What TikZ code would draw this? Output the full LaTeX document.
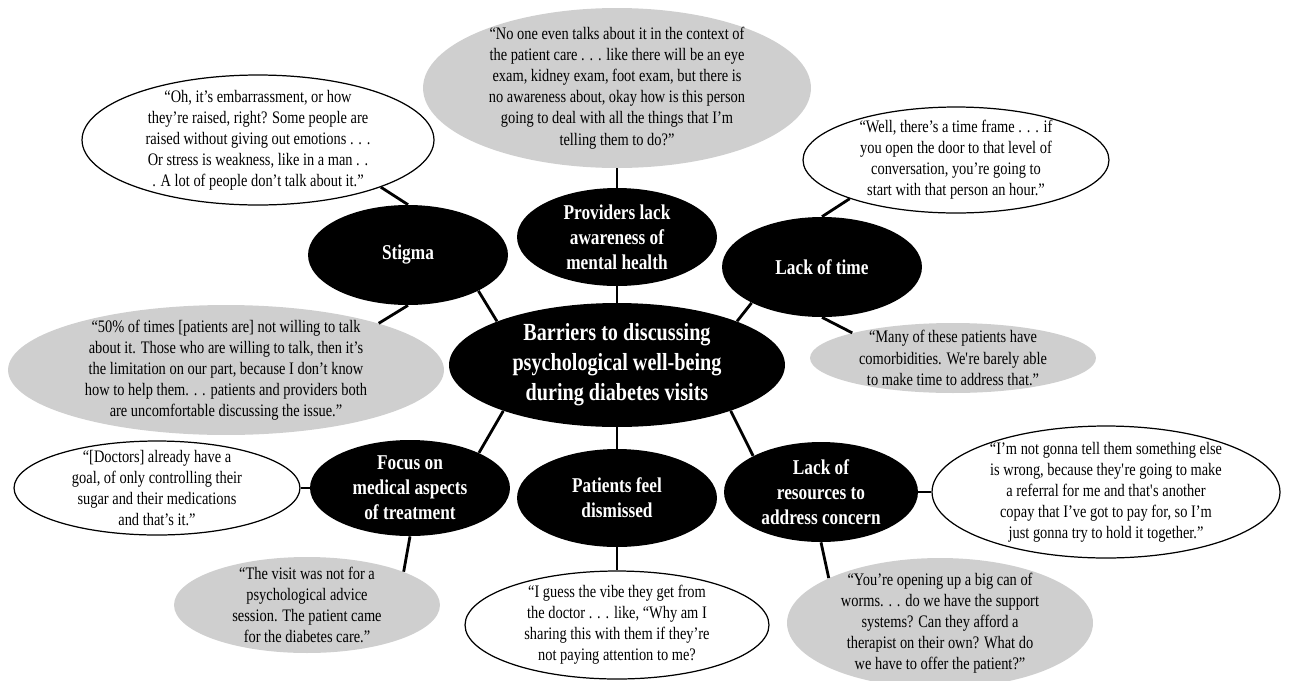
\documentclass[tikz,border=0pt]{standalone}
\usepackage{fontspec}
\setmainfont{Liberation Serif}[FakeStretch=0.82]
\usetikzlibrary{shapes.geometric}
\definecolor{quotegray}{RGB}{207,207,207}

\begin{document}
\begin{tikzpicture}[x=0.02cm,y=-0.02cm,
  theme/.style={ellipse,fill=black,text=white,align=center,inner sep=-3cm,
    font=\fontsize{12}{14.2}\selectfont\bfseries},
  quote/.style={ellipse,align=center,inner sep=-3cm,font=\fontsize{10}{12}\selectfont},
  plain/.style={quote,draw=black,line width=0.7pt,fill=white},
  shaded/.style={quote,fill=quotegray},
  link/.style={black,line width=1.6pt}]
\useasboundingbox (0,0) rectangle (1308,680);
% themes
\node[theme,minimum width=6.72cm,minimum height=2.48cm,font=\fontsize{14}{17}\selectfont\bfseries]
  (core) at (617,365) {Barriers to discussing\\psychological well-being\\during diabetes visits};
\node[theme,minimum width=4cm,minimum height=2cm] (stigma) at (408,255) {Stigma};
\node[theme,minimum width=4cm,minimum height=1.96cm] (aware) at (617,237) {Providers lack\\awareness of\\mental health};
\node[theme,minimum width=4cm,minimum height=2cm] (time) at (822,267) {Lack of time};
\node[theme,minimum width=4cm,minimum height=1.92cm] (focus) at (410,488) {Focus on\\medical aspects\\of treatment};
\node[theme,minimum width=4cm,minimum height=1.96cm] (dismiss) at (617,498) {Patients feel\\dismissed};
\node[theme,minimum width=3.88cm,minimum height=2cm] (resource) at (821,492) {Lack of\\resources to\\address concern};
% quotes
\node[plain,minimum width=7.04cm,minimum height=2.6cm] (q1) at (258,140)
  {“Oh, it’s embarrassment, or how\\they’re raised, right? Some people are\\raised without giving out emotions . . .\\Or stress is weakness, like in a man . .\\. A lot of people don’t talk about it.”};
\node[shaded,minimum width=7.76cm,minimum height=3.2cm] (q2) at (617,88)
  {“No one even talks about it in the context of\\the patient care . . . like there will be an eye\\exam, kidney exam, foot exam, but there is\\no awareness about, okay how is this person\\going to deal with all the things that I’m\\telling them to do?”};
\node[plain,minimum width=6.12cm,minimum height=2.12cm] (q3) at (956,160)
  {“Well, there’s a time frame . . . if\\you open the door to that level of\\conversation, you’re going to\\start with that person an hour.”};
\node[shaded,minimum width=8.72cm,minimum height=2.6cm] (q4) at (226,370)
  {“50\% of times [patients are] not willing to talk\\about it. Those who are willing to talk, then it’s\\the limitation on our part, because I don’t know\\how to help them. . . patients and providers both\\are uncomfortable discussing the issue.”};
\node[shaded,minimum width=5.72cm,minimum height=1.4cm] (q5) at (953,358)
  {“Many of these patients have\\comorbidities. We\textquotesingle re barely able\\to make time to address that.”};
\node[plain,minimum width=5.72cm,minimum height=1.88cm] (q6) at (157,488)
  {“[Doctors] already have a\\goal, of only controlling their\\sugar and their medications\\and that’s it.”};
\node[shaded,minimum width=5.32cm,minimum height=1.92cm] (q7) at (307,605)
  {“The visit was not for a\\psychological advice\\session. The patient came\\for the diabetes care.”};
\node[plain,minimum width=6.08cm,minimum height=2.16cm] (q8) at (617,625)
  {“I guess the vibe they get from\\the doctor . . . like, “Why am I\\sharing this with them if they’re\\not paying attention to me?};
\node[plain,minimum width=6.96cm,minimum height=2.64cm] (q9) at (1106,492)
  {“I’m not gonna tell them something else\\is wrong, because they\textquotesingle re going to make\\a referral for me and that\textquotesingle s another\\copay that I’ve got to pay for, so I’m\\just gonna try to hold it together.”};
\node[shaded,minimum width=6.12cm,minimum height=2.6cm] (q10) at (940,623)
  {“You’re opening up a big can of\\worms. . . do we have the support\\systems? Can they afford a\\therapist on their own? What do\\we have to offer the patient?”};
% links
\draw[link] (q1.-21) -- (stigma.north);
\draw[link] (stigma.south) -- (q4.17);
\draw[link] (stigma.-27) -- (core.160);
\draw[link] (q2.south) -- (aware.north);
\draw[link] (aware.south) -- (core.north);
\draw[link] (time.north) -- (q3.200);
\draw[link] (time.south) -- (q5.166);
\draw[link] (time.207) -- (core.20);
\draw[link] (core.202) -- (focus.27);
\draw[link] (focus.west) -- (q6.east);
\draw[link] (focus.south) -- (q7.19);
\draw[link] (core.south) -- (dismiss.north);
\draw[link] (dismiss.south) -- (q8.north);
\draw[link] (core.-22) -- (resource.152);
\draw[link] (resource.east) -- (q9.west);
\draw[link] (resource.south) -- (q10.158);
\end{tikzpicture}
\end{document}
